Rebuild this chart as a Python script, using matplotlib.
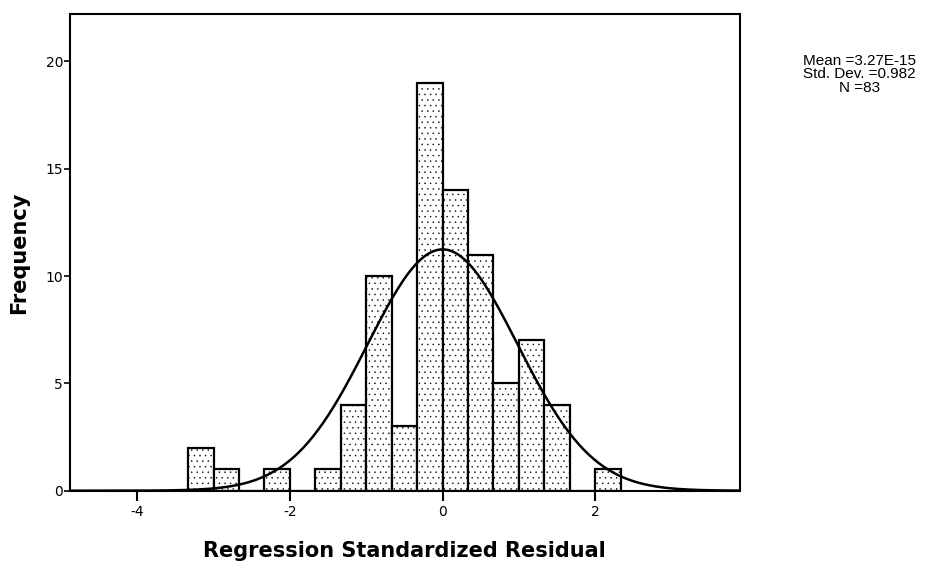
import numpy as np
import matplotlib
matplotlib.use('Agg')
import matplotlib.pyplot as plt

# histogram of standardized residuals, bin width 1/3
bin_start = -10 / 3
bin_width = 1 / 3
counts = [2, 1, 0, 1, 0, 1, 4, 10, 3, 19, 14, 11, 5, 7, 4, 0, 1]

mean = 3.27e-15
std = 0.982
n = 83

x_ticks = [-4, -2, 0, 2]
y_ticks = [0, 5, 10, 15, 20]


def main():
    plt.rcParams['hatch.color'] = '#a0a0a0'
    plt.rcParams['hatch.linewidth'] = 0.3

    fig = plt.figure(figsize=(9.28, 5.64), dpi=100)
    ax = fig.add_axes([0.0754, 0.130, 0.7216, 0.845])

    lefts = bin_start + bin_width * np.arange(len(counts))
    ax.bar(lefts, counts, width=bin_width, align='edge', facecolor='white',
           edgecolor='black', linewidth=1.6, hatch='...', zorder=2)

    xs = np.linspace(-4.88, 3.89, 400)
    ys = n * bin_width / (std * np.sqrt(2 * np.pi)) * np.exp(-0.5 * ((xs - mean) / std) ** 2)
    ax.plot(xs, ys, color='black', linewidth=1.8, zorder=3)

    ax.set_xlim(-4.88, 3.89)
    ax.set_ylim(0, 22.2)
    ax.set_xticks(x_ticks)
    ax.set_yticks(y_ticks)
    ax.set_xticklabels([str(t) for t in x_ticks], fontsize=10)
    ax.set_yticklabels([str(t) for t in y_ticks], fontsize=10)
    ax.tick_params(axis='x', length=7, width=1.5, pad=3)
    ax.tick_params(axis='y', length=4, width=1.2, pad=1)
    for s in ax.spines.values():
        s.set_linewidth(1.5)

    ax.set_xlabel('Regression Standardized Residual', fontsize=15,
                  fontweight='bold', labelpad=16)
    ax.set_ylabel('Frequency', fontsize=15, fontweight='bold', labelpad=12)

    fig.text(0.926, 0.868, 'Mean =3.27E-15\nStd. Dev. =0.982\nN =83',
             ha='center', va='center', fontsize=11, family='Liberation Sans',
             linespacing=0.95)

    fig.savefig('out.png', dpi=100)


if __name__ == '__main__':
    main()
